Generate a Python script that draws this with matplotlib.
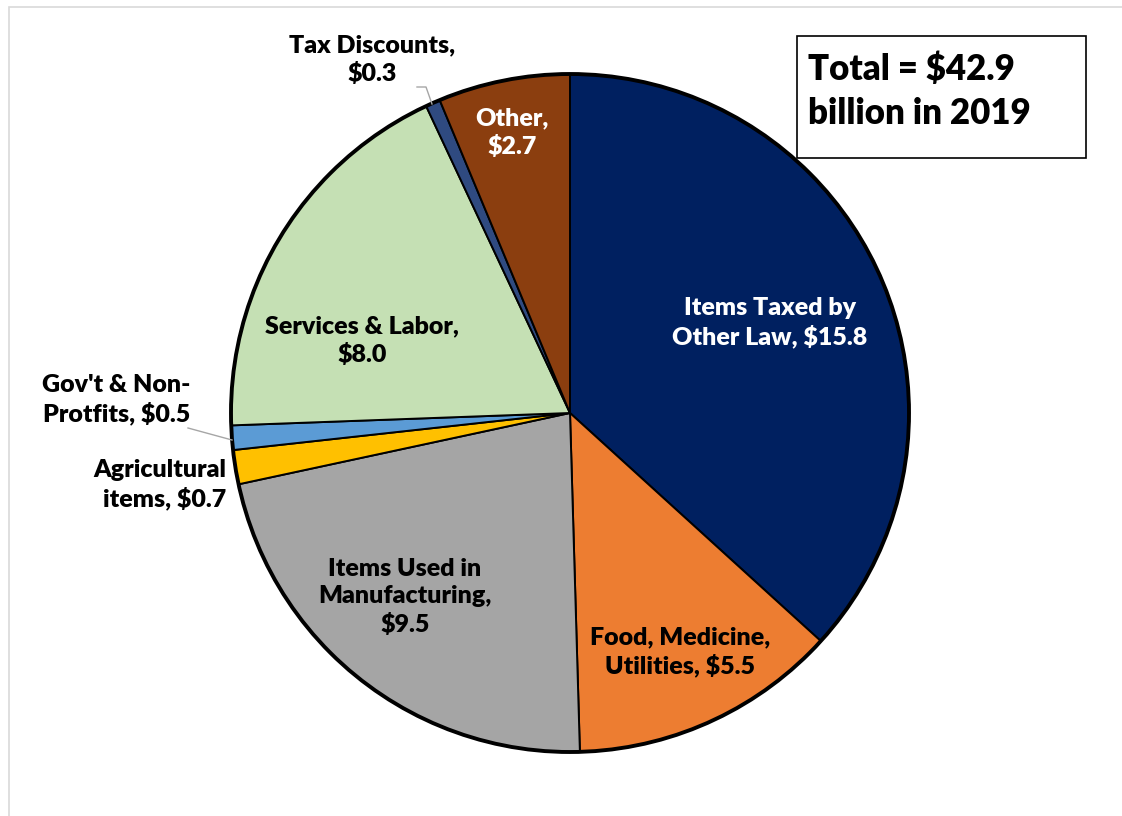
import matplotlib.pyplot as plt
from matplotlib.patches import Circle, Rectangle

plt.rcParams['font.family'] = ['Lato', 'DejaVu Sans']

labels = ["Items Taxed by\nOther Law, $15.8", "Food, Medicine,\nUtilities, $5.5",
          "Items Used in\nManufacturing,\n$9.5", "Agricultural\nitems, $0.7",
          "Gov't & Non-\nProtfits, $0.5", "Services & Labor,\n$8.0",
          "Tax Discounts,\n$0.3", "Other,\n$2.7"]
values = [15.8, 5.5, 9.5, 0.7, 0.5, 8.0, 0.3, 2.7]
colors = ['#002060', '#ED7D31', '#A5A5A5', '#FFC000', '#5B9BD5', '#C5E0B4', '#2F4A80', '#8B3E0F']
text_colors = ['white', 'black', 'black', 'black', 'black', 'black', 'black', 'white']

W, H = 1122, 816
fig = plt.figure(figsize=(W / 100, H / 100), dpi=100)
ax = fig.add_axes([0, 0, 1, 1])

# outer frame of the chart area
ax.add_patch(Rectangle((9, -5), W, H - 7 + 5, fill=False, edgecolor='#D9D9D9', lw=1.2))

cx, cy, r = 570, H - 413, 339
ax.pie(values, colors=colors, startangle=90, counterclock=False, center=(cx, cy),
       radius=r, wedgeprops=dict(edgecolor='black', linewidth=1.4), frame=True)
ax.add_patch(Circle((cx, cy), r, fill=False, edgecolor='black', lw=2.8, zorder=5))
ax.set_xlim(0, W)
ax.set_ylim(0, H)
ax.set_aspect('equal')
ax.axis('off')

# label anchor points (pixel positions measured from top)
label_pos = [(770, 323, 'center'), (680, 652, 'center'), (405, 597, 'center'),
             (226, 485, 'right'), (190, 400, 'right'), (362, 341, 'center'),
             (372, 60, 'center'), (512, 133, 'center')]
for lab, tc, (x, y, ha) in zip(labels, text_colors, label_pos):
    ax.text(x, H - y, lab, ha=ha, va='center', fontsize=18, fontweight='heavy',
            color=tc, linespacing=1.3, zorder=6)

# leader lines for the two thin slices
ax.plot([188, 232], [H - 428, H - 440], color='#A6A6A6', lw=1, zorder=6)
ax.plot([417, 426, 432], [H - 87, H - 87, H - 104], color='#A6A6A6', lw=1, zorder=6)

# total box
ax.add_patch(Rectangle((797, H - 158), 289, 122, fill=True, facecolor='white',
                       edgecolor='black', lw=1.2, zorder=6))
ax.text(808, H - 91, "Total = $42.9\nbillion in 2019", ha='left', va='center',
        fontsize=25, fontweight='heavy', linespacing=1.42, zorder=7)

fig.savefig('out.png', dpi=100)
